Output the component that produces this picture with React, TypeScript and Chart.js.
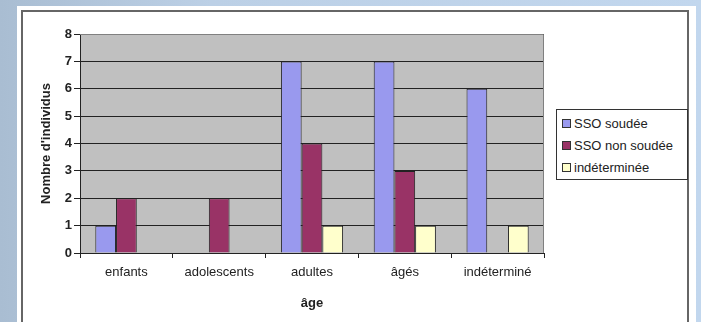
import { useEffect, useRef } from 'react';
import { Chart, registerables } from 'chart.js';

Chart.register(...registerables);

const FONT = '"Liberation Sans", Arial, Helvetica, sans-serif';

const categories = ['enfants', 'adolescents', 'adultes', 'âgés', 'indéterminé'];
const seriesLabels = ['SSO soudée', 'SSO non soudée', 'indéterminée'];
const ssoSoudee = [1, 0, 7, 7, 6];
const ssoNonSoudee = [2, 2, 4, 3, 0];
const indeterminee = [0, 0, 1, 1, 1];
const seriesColors = ['#9999ee', '#993366', '#ffffcc'];
const yMin = 0;
const yMax = 8;
const yStep = 1;
const xTitle = 'âge';
const yTitle = "Nombre d'individus";

export default function App() {
  const ref = useRef<HTMLCanvasElement>(null);

  useEffect(() => {
    if (!ref.current) return;
    const plotBg = {
      id: 'plotBg',
      beforeDraw(chart: any) {
        const { ctx, chartArea: a } = chart;
        ctx.save();
        ctx.fillStyle = '#c0c0c0';
        ctx.fillRect(a.left, a.top, a.right - a.left, a.bottom - a.top);
        ctx.restore();
      },
      afterDraw(chart: any) {
        const { ctx, chartArea: a } = chart;
        ctx.save();
        ctx.strokeStyle = '#808080';
        ctx.lineWidth = 1;
        ctx.beginPath();
        ctx.moveTo(a.left, a.top + 0.5);
        ctx.lineTo(a.right - 0.5, a.top + 0.5);
        ctx.lineTo(a.right - 0.5, a.bottom);
        ctx.stroke();
        ctx.restore();
      },
    };
    const values = [ssoSoudee, ssoNonSoudee, indeterminee];
    const chart = new Chart(ref.current, {
      type: 'bar',
      data: {
        labels: categories,
        datasets: values.map((d, i) => ({
          label: seriesLabels[i],
          data: d,
          backgroundColor: seriesColors[i],
          borderColor: '#222222',
          borderWidth: 1,
          borderSkipped: 'start',
          categoryPercentage: 0.67,
          barPercentage: 1,
        })),
      },
      options: {
        animation: false,
        responsive: false,
        devicePixelRatio: 1,
        layout: { padding: { left: 35, top: 34, right: 157, bottom: 11 } },
        plugins: { legend: { display: false }, tooltip: { enabled: false } },
        scales: {
          x: {
            grid: { drawOnChartArea: false, drawTicks: true, tickLength: 5, color: '#222', offset: true },
            border: { color: '#222', width: 1 },
            ticks: { font: { family: FONT, size: 13 }, color: '#222', padding: 7, maxRotation: 0 },
            title: {
              display: true,
              text: xTitle,
              font: { family: FONT, size: 13, weight: 'bold' },
              color: '#222',
              padding: { top: 3, bottom: 0 },
            },
            afterFit: (s: any) => {
              s.height = 58;
            },
          },
          y: {
            min: yMin,
            max: yMax,
            ticks: { stepSize: yStep, font: { family: FONT, size: 13, weight: 'bold' }, color: '#222', padding: 2 },
            grid: { color: '#222', tickLength: 6, lineWidth: 1 },
            border: { color: '#222', width: 1 },
            title: {
              display: true,
              text: yTitle,
              font: { family: FONT, size: 13, weight: 'bold' },
              color: '#222',
              padding: { top: 4, bottom: 0 },
            },
            afterFit: (s: any) => {
              s.width = 45;
            },
          },
        },
      },
      plugins: [plotBg],
    });
    return () => chart.destroy();
  }, []);

  return (
    <div
      style={{
        position: 'fixed',
        left: 0,
        top: 0,
        width: 701,
        height: 322,
        overflow: 'hidden',
        background: 'linear-gradient(90deg, #a9bdd2 0%, #bcd0e6 30%, #c2d7ee 100%)',
        fontFamily: FONT,
      }}
    >
      <div
        style={{
          position: 'absolute',
          left: 17,
          top: 6,
          width: 679,
          height: 330,
          background: '#ffffff',
        }}
      />
      <div
        style={{
          position: 'absolute',
          left: 21,
          top: 10,
          width: 668,
          height: 330,
          border: '2px solid #666',
          boxSizing: 'border-box',
        }}
      />
      <canvas
        ref={ref}
        width={701}
        height={322}
        style={{ position: 'absolute', left: 0, top: 0, width: 701, height: 322 }}
      />
      <div
        style={{
          position: 'absolute',
          left: 556,
          top: 109,
          width: 132,
          height: 71,
          border: '1px solid #333',
          boxSizing: 'border-box',
          background: '#fff',
          paddingTop: 2,
        }}
      >
        {seriesLabels.map((l, i) => (
          <div
            key={l}
            style={{ display: 'flex', alignItems: 'center', height: 22, paddingLeft: 5, whiteSpace: 'nowrap' }}
          >
            <span
              style={{
                display: 'inline-block',
                width: 7,
                height: 7,
                background: seriesColors[i],
                border: '1px solid #333',
                marginRight: 3,
              }}
            />
            <span style={{ fontSize: 13, color: '#222' }}>{l}</span>
          </div>
        ))}
      </div>
    </div>
  );
}
